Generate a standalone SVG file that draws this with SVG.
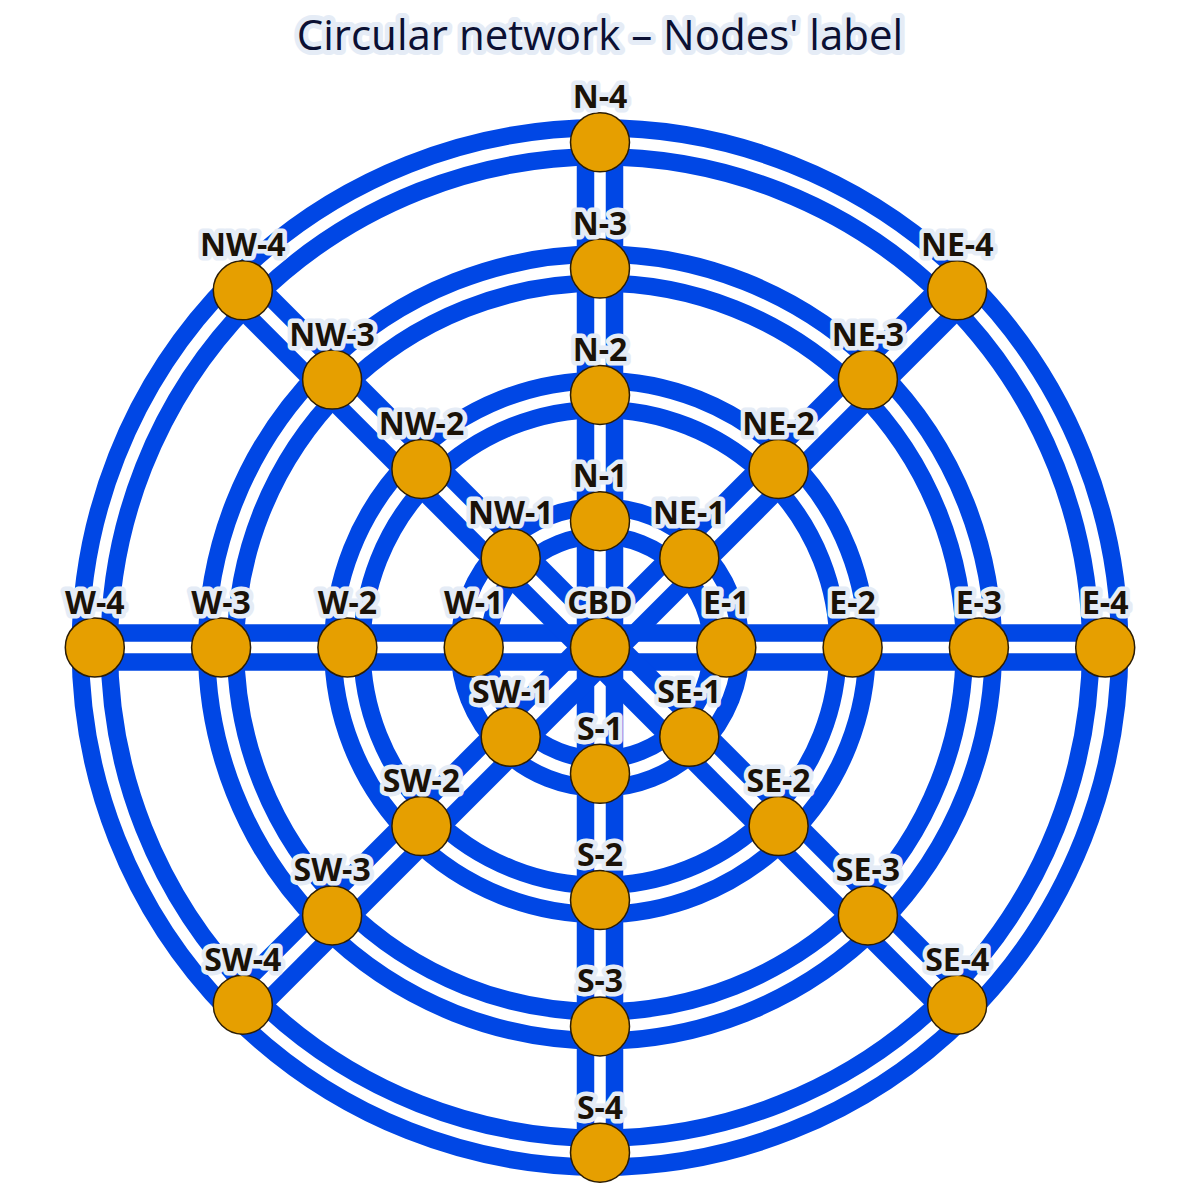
<svg xmlns="http://www.w3.org/2000/svg" xmlns:xlink="http://www.w3.org/1999/xlink" width="1200" height="1200" viewBox="0 0 1200 1200">
<style>
.edge{stroke:#0047e5;stroke-width:17.5;fill:none}
.node{fill:#e69f00;stroke:#2b1d05;stroke-width:1.5}
.lbl{font-family:"Open Sans","Noto Sans",sans-serif;font-weight:bold;font-size:32px;fill:#1a1208;text-anchor:middle;stroke:#e5ecf6;stroke-width:9;stroke-linejoin:round;paint-order:stroke}
.title{font-family:"Open Sans","Noto Sans",sans-serif;font-size:42px;fill:#0b1033;text-anchor:middle;stroke:#e5ecf6;stroke-width:10;stroke-linejoin:round;paint-order:stroke}
</style>
<defs>
<g id="spoke">
<line class="edge" x1="585.5" y1="647.5" x2="585.5" y2="142.3"/>
<line class="edge" x1="614.5" y1="647.5" x2="614.5" y2="142.3"/>
</g>
</defs>
<rect width="1200" height="1200" fill="#ffffff"/>
<g id="connectors">
<circle class="edge" cx="600" cy="647.5" r="111.8"/>
<circle class="edge" cx="600" cy="647.5" r="140.8"/>
<circle class="edge" cx="600" cy="647.5" r="238.1"/>
<circle class="edge" cx="600" cy="647.5" r="267.1"/>
<circle class="edge" cx="600" cy="647.5" r="364.4"/>
<circle class="edge" cx="600" cy="647.5" r="393.4"/>
<circle class="edge" cx="600" cy="647.5" r="490.7"/>
<circle class="edge" cx="600" cy="647.5" r="519.7"/>
<use xlink:href="#spoke"/>
<use xlink:href="#spoke" transform="rotate(45 600 647.5)"/>
<use xlink:href="#spoke" transform="rotate(90 600 647.5)"/>
<use xlink:href="#spoke" transform="rotate(135 600 647.5)"/>
<use xlink:href="#spoke" transform="rotate(180 600 647.5)"/>
<use xlink:href="#spoke" transform="rotate(225 600 647.5)"/>
<use xlink:href="#spoke" transform="rotate(270 600 647.5)"/>
<use xlink:href="#spoke" transform="rotate(315 600 647.5)"/>
</g>
<g id="nodes">
<g id="CBD"><circle class="node" cx="600" cy="647.5" r="29.5"/></g>
<g id="N-1"><circle class="node" cx="600" cy="521.2" r="29.5"/></g>
<g id="N-2"><circle class="node" cx="600" cy="394.9" r="29.5"/></g>
<g id="N-3"><circle class="node" cx="600" cy="268.6" r="29.5"/></g>
<g id="N-4"><circle class="node" cx="600" cy="142.3" r="29.5"/></g>
<g id="S-1"><circle class="node" cx="600" cy="773.8" r="29.5"/></g>
<g id="S-2"><circle class="node" cx="600" cy="900.1" r="29.5"/></g>
<g id="S-3"><circle class="node" cx="600" cy="1026.4" r="29.5"/></g>
<g id="S-4"><circle class="node" cx="600" cy="1152.7" r="29.5"/></g>
<g id="E-1"><circle class="node" cx="726.3" cy="647.5" r="29.5"/></g>
<g id="E-2"><circle class="node" cx="852.6" cy="647.5" r="29.5"/></g>
<g id="E-3"><circle class="node" cx="978.9" cy="647.5" r="29.5"/></g>
<g id="E-4"><circle class="node" cx="1105.2" cy="647.5" r="29.5"/></g>
<g id="W-1"><circle class="node" cx="473.7" cy="647.5" r="29.5"/></g>
<g id="W-2"><circle class="node" cx="347.4" cy="647.5" r="29.5"/></g>
<g id="W-3"><circle class="node" cx="221.1" cy="647.5" r="29.5"/></g>
<g id="W-4"><circle class="node" cx="94.8" cy="647.5" r="29.5"/></g>
<g id="NE-1"><circle class="node" cx="689.3" cy="558.2" r="29.5"/></g>
<g id="NE-2"><circle class="node" cx="778.6" cy="468.9" r="29.5"/></g>
<g id="NE-3"><circle class="node" cx="867.9" cy="379.6" r="29.5"/></g>
<g id="NE-4"><circle class="node" cx="957.2" cy="290.3" r="29.5"/></g>
<g id="NW-1"><circle class="node" cx="510.7" cy="558.2" r="29.5"/></g>
<g id="NW-2"><circle class="node" cx="421.4" cy="468.9" r="29.5"/></g>
<g id="NW-3"><circle class="node" cx="332.1" cy="379.6" r="29.5"/></g>
<g id="NW-4"><circle class="node" cx="242.8" cy="290.3" r="29.5"/></g>
<g id="SE-1"><circle class="node" cx="689.3" cy="736.8" r="29.5"/></g>
<g id="SE-2"><circle class="node" cx="778.6" cy="826.1" r="29.5"/></g>
<g id="SE-3"><circle class="node" cx="867.9" cy="915.4" r="29.5"/></g>
<g id="SE-4"><circle class="node" cx="957.2" cy="1004.7" r="29.5"/></g>
<g id="SW-1"><circle class="node" cx="510.7" cy="736.8" r="29.5"/></g>
<g id="SW-2"><circle class="node" cx="421.4" cy="826.1" r="29.5"/></g>
<g id="SW-3"><circle class="node" cx="332.1" cy="915.4" r="29.5"/></g>
<g id="SW-4"><circle class="node" cx="242.8" cy="1004.7" r="29.5"/></g>
</g>
<g id="labels">
<text class="lbl" x="600" y="613.5">CBD</text>
<text class="lbl" x="600" y="487.2">N-1</text>
<text class="lbl" x="600" y="360.9">N-2</text>
<text class="lbl" x="600" y="234.6">N-3</text>
<text class="lbl" x="600" y="108.3">N-4</text>
<text class="lbl" x="600" y="739.8">S-1</text>
<text class="lbl" x="600" y="866.1">S-2</text>
<text class="lbl" x="600" y="992.4">S-3</text>
<text class="lbl" x="600" y="1118.7">S-4</text>
<text class="lbl" x="726.3" y="613.5">E-1</text>
<text class="lbl" x="852.6" y="613.5">E-2</text>
<text class="lbl" x="978.9" y="613.5">E-3</text>
<text class="lbl" x="1105.2" y="613.5">E-4</text>
<text class="lbl" x="473.7" y="613.5">W-1</text>
<text class="lbl" x="347.4" y="613.5">W-2</text>
<text class="lbl" x="221.1" y="613.5">W-3</text>
<text class="lbl" x="94.8" y="613.5">W-4</text>
<text class="lbl" x="689.3" y="524.2">NE-1</text>
<text class="lbl" x="778.6" y="434.9">NE-2</text>
<text class="lbl" x="867.9" y="345.6">NE-3</text>
<text class="lbl" x="957.2" y="256.3">NE-4</text>
<text class="lbl" x="510.7" y="524.2">NW-1</text>
<text class="lbl" x="421.4" y="434.9">NW-2</text>
<text class="lbl" x="332.1" y="345.6">NW-3</text>
<text class="lbl" x="242.8" y="256.3">NW-4</text>
<text class="lbl" x="689.3" y="702.8">SE-1</text>
<text class="lbl" x="778.6" y="792.1">SE-2</text>
<text class="lbl" x="867.9" y="881.4">SE-3</text>
<text class="lbl" x="957.2" y="970.7">SE-4</text>
<text class="lbl" x="510.7" y="702.8">SW-1</text>
<text class="lbl" x="421.4" y="792.1">SW-2</text>
<text class="lbl" x="332.1" y="881.4">SW-3</text>
<text class="lbl" x="242.8" y="970.7">SW-4</text>
</g>
<text class="title" x="600" y="50">Circular network – Nodes' label</text>
</svg>
